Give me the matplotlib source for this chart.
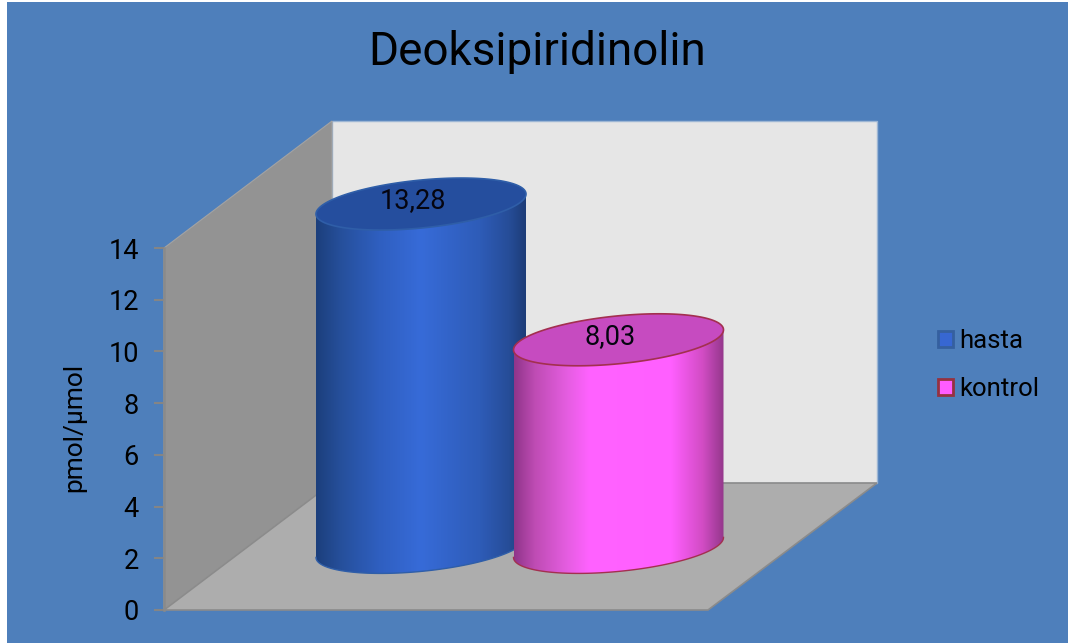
import numpy as np
import matplotlib
matplotlib.use('Agg')
import matplotlib.pyplot as plt
from matplotlib.colors import LinearSegmentedColormap
from matplotlib.patches import Patch, Polygon, Rectangle

plt.rcParams['font.family'] = ['Roboto', 'DejaVu Sans']

title = 'Deoksipiridinolin'
groups = ['hasta', 'kontrol']
values = [13.28, 8.03]
value_labels = ['13,28', '8,03']
y_ticks = [0, 2, 4, 6, 8, 10, 12, 14]
y_label = 'pmol/µmol'

W, H = 1068, 643
BLUE_BG = '#4e7fbb'
UNIT = 362 / 14  # pixels per y unit

# cylinder layout, x in pixels, y in axis units
centers = [421, 618.5]
base = 2.42
rx = 105
ry = 24 / UNIT
tilt = 10 / UNIT
depth_x = 168
depth_y = 127 / UNIT

body_stops = [
    [(0, '#1c3f7c'), (0.12, '#26509c'), (0.3, '#2f5fc0'), (0.5, '#376bd8'),
     (0.78, '#2e5cb8'), (0.92, '#264d98'), (1, '#1d3d78')],
    [(0, '#90358a'), (0.1, '#bf4cb4'), (0.25, '#e45de0'), (0.36, '#ff62ff'),
     (0.75, '#ff5fff'), (0.9, '#d24cc4'), (1, '#94388c')],
]
top_colors = ['#254e9e', '#c64bc0']
edge_colors = ['#2f5ea8', '#a3304f']
legend_colors = ['#3767d2', '#ff5cff']
legend_edges = ['#35609f', '#943240']


def draw_cylinder(ax, cx, value, stops, top_color, edge_color, z):
    t_front = np.linspace(np.pi, 2 * np.pi, 80)
    t_back = np.linspace(0, np.pi, 80)
    t_all = np.linspace(0, 2 * np.pi, 160)
    top = base + value

    def ring(t, y0):
        return np.column_stack([cx + rx * np.cos(t),
                                y0 + tilt * np.cos(t) + ry * np.sin(t)])

    outline = np.vstack([ring(t_front, base), ring(t_back, top)])
    body = Polygon(outline, closed=True, facecolor='none', edgecolor='none',
                   zorder=z, clip_on=False)
    ax.add_patch(body)

    cmap = LinearSegmentedColormap.from_list('body', stops)
    img = ax.imshow(np.linspace(0, 1, 256).reshape(1, -1), cmap=cmap, aspect='auto',
                    extent=[cx - rx, cx + rx, base - 2, top + 2], zorder=z)
    # the cylinder pokes out of the axes, so clip to the outline only
    img.set_clip_path(body)
    img.set_clip_box(ax.figure.bbox)

    # darker rim along the foot of the cylinder
    ax.plot(*ring(t_front, base).T, color=edge_color, lw=1, zorder=z + 0.1, clip_on=False)
    ax.add_patch(Polygon(ring(t_all, top), closed=True, facecolor=top_color,
                         edgecolor=edge_color, lw=1.2, zorder=z + 0.2, clip_on=False))


fig = plt.figure(figsize=(W / 100, H / 100), dpi=100, facecolor='white')
fig.patches.append(Rectangle((7 / W, 0), 1 - 7 / W, 1 - 2 / H, transform=fig.transFigure,
                             facecolor=BLUE_BG, edgecolor='none', zorder=-5))

ax = fig.add_axes([164 / W, (H - 610) / H, 544 / W, 362 / H])
ax.patch.set_visible(False)

# back wall, side wall and floor of the 3D box
x0, x1 = 164, 708
back = [(x0 + depth_x, depth_y), (x1 + depth_x + 1, depth_y),
        (x1 + depth_x + 1, 14 + depth_y), (x0 + depth_x, 14 + depth_y)]
side = [(x0, 0), (x0 + depth_x, depth_y), (x0 + depth_x, 14 + depth_y), (x0, 14)]
floor = [(x0, 0), (x1, 0), (x1 + depth_x + 1, depth_y), (x0 + depth_x, depth_y)]
ax.add_patch(Polygon(back, closed=True, facecolor='#e6e6e6', edgecolor='#9db6d4',
                     lw=1, zorder=1, clip_on=False))
ax.add_patch(Polygon(side, closed=True, facecolor='#939393', edgecolor='#a3a3a3',
                     lw=0.8, zorder=1.5, clip_on=False))
ax.add_patch(Polygon(floor, closed=True, facecolor='#adadad', edgecolor='#8b8b8b',
                     lw=1.2, zorder=1.6, clip_on=False))

for i, (cx, v, stops, tc, ec) in enumerate(zip(centers, values, body_stops, top_colors, edge_colors)):
    draw_cylinder(ax, cx, v, stops, tc, ec, 3 + i)

for cx, v, lab in zip(centers, values, value_labels):
    ax.text(cx - 8, base + v + 3 / UNIT, lab, ha='center', va='center',
            fontsize=19.5, color='#050510', zorder=6, clip_on=False)

ax.set_xlim(x0, x1)
ax.set_ylim(0, 14)
ax.set_xticks([])
ax.set_yticks(y_ticks)
ax.tick_params(axis='y', length=7, width=1.5, color='#858585', pad=11, labelsize=19.5,
               labelcolor='black')
for name in ('top', 'right', 'bottom'):
    ax.spines[name].set_visible(False)
ax.spines['left'].set_color('#8a8a8a')
ax.spines['left'].set_linewidth(1.8)
ax.spines['left'].set_zorder(2)
ax.set_ylabel(y_label, fontsize=19, color='black', labelpad=16, y=0.505)

fig.text(537 / W, 1 - 52 / H, title, ha='center', va='center', fontsize=33, color='black')

handles = [Patch(facecolor=c, edgecolor=e, lw=2) for c, e in zip(legend_colors, legend_edges)]
fig.legend(handles, groups, loc='center left', bbox_to_anchor=(915 / W, 1 - 365 / H),
           frameon=False, fontsize=18.5, labelspacing=0.95, handlelength=0.58, handleheight=0.58,
           handletextpad=0.25, labelcolor='black')

fig.savefig('out.png', dpi=100, facecolor=fig.get_facecolor())
